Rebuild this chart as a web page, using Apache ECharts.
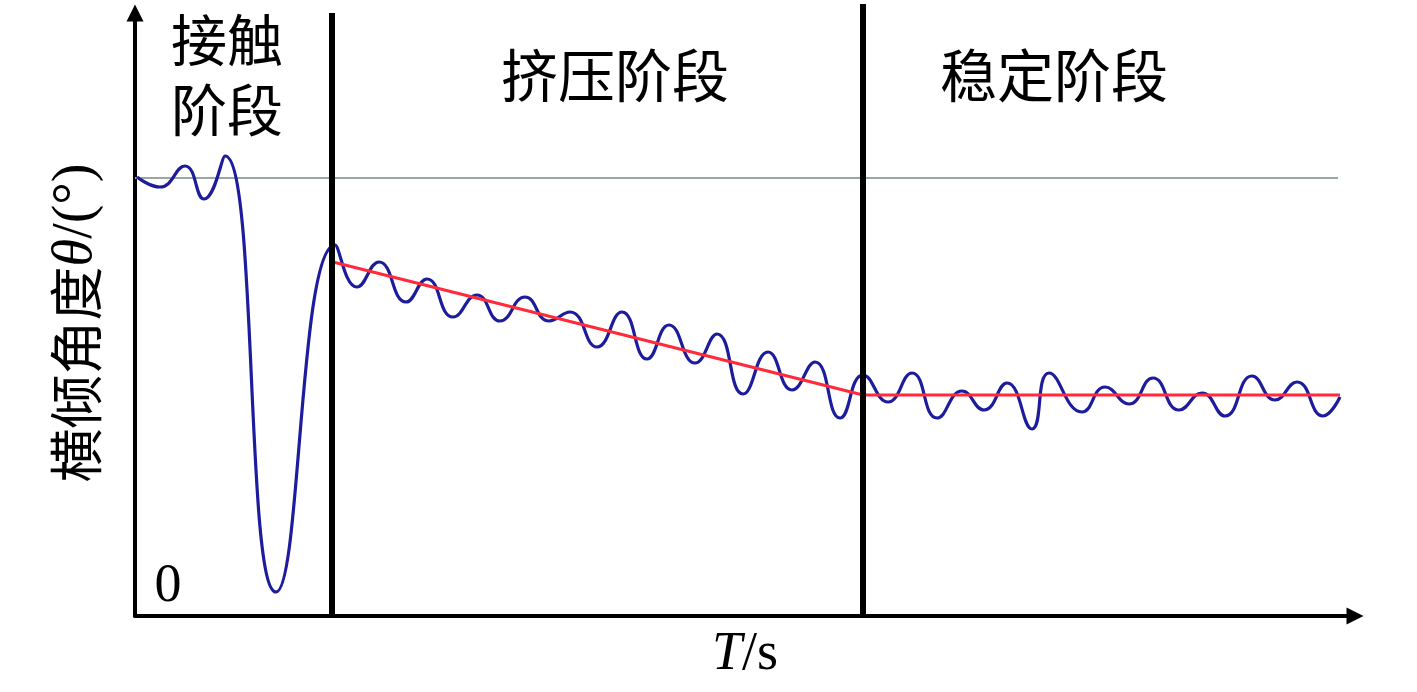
<!DOCTYPE html>
<html>
<head>
<meta charset="utf-8">
<script src="https://cdn.jsdelivr.net/npm/echarts@6/dist/echarts.min.js"></script>
<style>html,body{margin:0;padding:0;background:#fff}#c{width:1417px;height:692px}</style>
</head>
<body>
<div id="c"></div>
<script>
// Time (arbitrary units) and tilt angle (arbitrary units)
const tiltX = [2,25,50,69,90,141,200,222,244,271,292,318,342,365,390,414,435,462,487,512,534,560,582,608,633,657,680,705,728,753,777,802,827,849,872,897,914,947,970,994,1018,1044,1067,1090,1117,1140,1162,1188,1205];
const tiltY = [439,429,450,417,460,24,371,329,354,314,337,299,321,295,319,295,304,269,304,257,291,253,282,222,264,226,254,198,241,214,243,198,225,206,233,187,243,204,229,212,238,206,223,200,240,216,234,200,219];
const trendX = [198,728,1205];
const trendY = [354,221,221];
const refX = [0,1203];
const refY = [438,438];
const stage1X = 197;
const stage2X = 728;
const stageTop1 = 603, stageTop2 = 612;
const xMax = 1220, yMax = 603;
const stageLabels = ['接触\n阶段','挤压阶段','稳定阶段'];
const originLabel = '0';

const chart = echarts.init(document.getElementById('c'));
const blue = tiltX.map((x,i)=>[x,tiltY[i]]);
const cjk = '"Noto Sans CJK SC", sans-serif';
const serif = '"Liberation Serif", "DejaVu Serif", serif';
chart.setOption({
  animation:false,
  grid:{left:135,right:62,top:13,bottom:76},
  xAxis:{type:'value',min:0,max:xMax,
    axisLine:{show:true,lineStyle:{color:'#000',width:4},symbol:['none','triangle'],symbolSize:[17,17]},
    axisTick:{show:false},axisLabel:{show:false},splitLine:{show:false}},
  yAxis:{type:'value',min:0,max:yMax,
    axisLine:{show:true,lineStyle:{color:'#000',width:4},symbol:['none','triangle'],symbolSize:[17,17]},
    axisTick:{show:false},axisLabel:{show:false},splitLine:{show:false}},
  series:[
    {type:'line',data:refX.map((x,i)=>[x,refY[i]]),showSymbol:false,lineStyle:{color:'#9aa5a5',width:2}},
    {type:'line',data:blue,smooth:0.5,showSymbol:false,lineStyle:{color:'#1c1c9c',width:3.2}},
    {type:'line',data:trendX.map((x,i)=>[x,trendY[i]]),showSymbol:false,lineStyle:{color:'#ff2b3a',width:3}},
    {type:'line',data:[[stage1X,0],[stage1X,stageTop1]],clip:false,showSymbol:false,lineStyle:{color:'#000',width:6}},
    {type:'line',data:[[stage2X,0],[stage2X,stageTop2]],clip:false,showSymbol:false,lineStyle:{color:'#000',width:6}}
  ],
  graphic:[
    {type:'text',x:227,y:75,style:{text:stageLabels[0],font:'56px '+cjk,fill:'#000',align:'center',verticalAlign:'middle',lineHeight:70}},
    {type:'text',x:615,y:75,style:{text:stageLabels[1],font:'57px '+cjk,fill:'#000',align:'center',verticalAlign:'middle'}},
    {type:'text',x:1054,y:75,style:{text:stageLabels[2],font:'57px '+cjk,fill:'#000',align:'center',verticalAlign:'middle'}},
    {type:'text',x:168,y:587,style:{text:originLabel,font:'54px '+serif,fill:'#000',align:'center',verticalAlign:'middle'}},
    {type:'text',x:745,y:655,style:{text:'{i|T}{n|/s}',fill:'#000',align:'center',verticalAlign:'middle',
      rich:{i:{fontFamily:serif,fontSize:54,fontStyle:'italic'},n:{fontFamily:serif,fontSize:54}}}},
    {type:'text',x:76,y:323,rotation:Math.PI/2,style:{text:'{a|横倾角度}{i|θ}{n|/(°)}',fill:'#000',align:'center',verticalAlign:'middle',
      rich:{a:{fontFamily:cjk,fontSize:54},i:{fontFamily:serif,fontSize:56,fontStyle:'italic'},n:{fontFamily:serif,fontSize:56}}}}
  ]
});
</script>
</body>
</html>
